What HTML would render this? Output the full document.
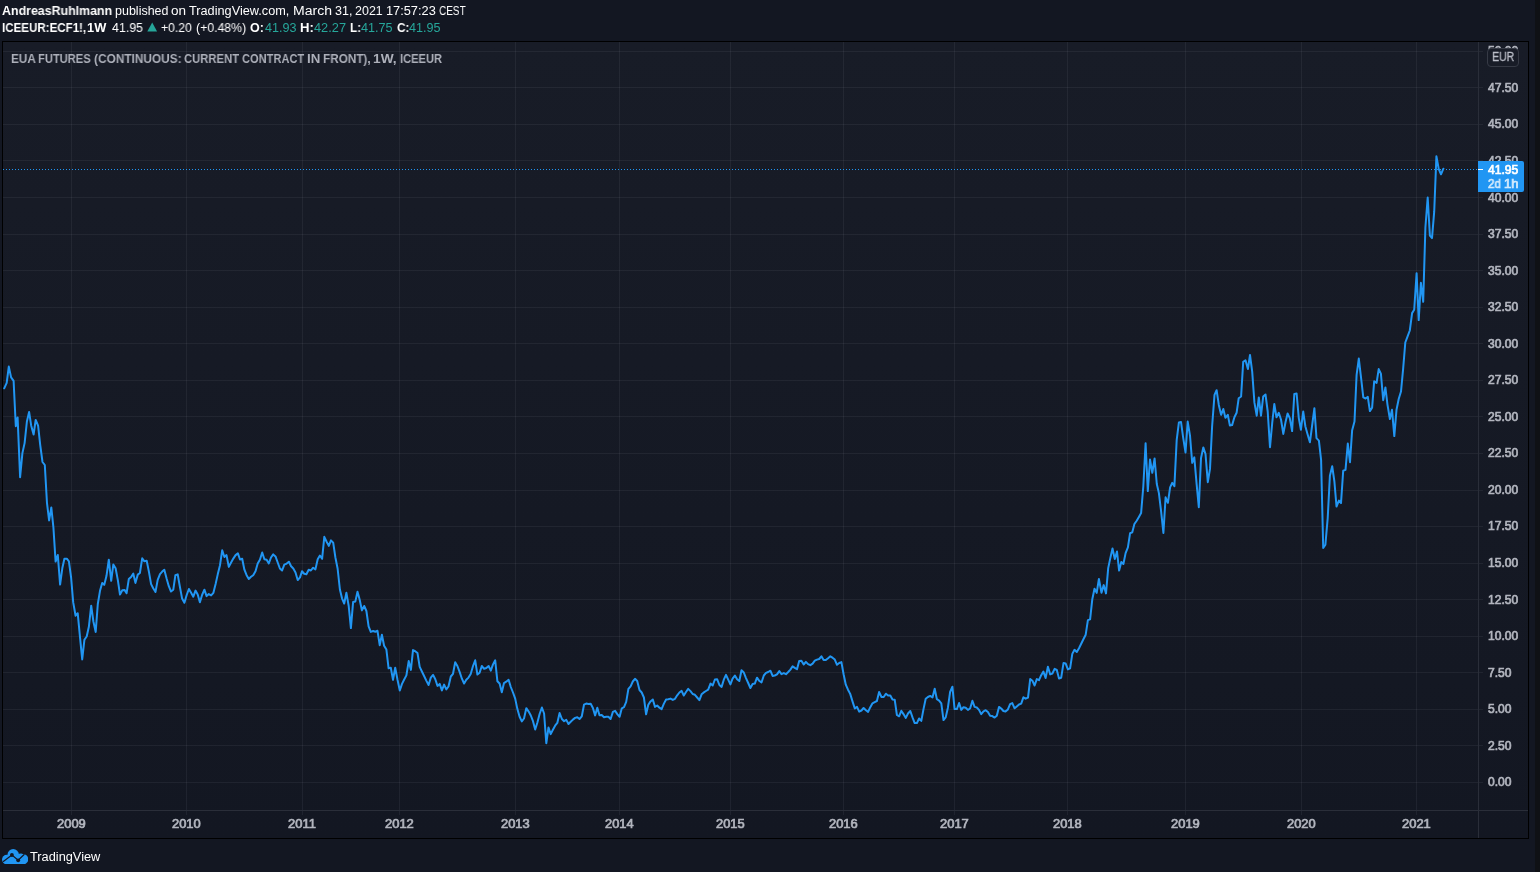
<!DOCTYPE html>
<html><head><meta charset="utf-8"><title>EUA Futures</title>
<style>
html,body{margin:0;padding:0;}
body{width:1540px;height:872px;background:#131722;position:relative;overflow:hidden;font-family:"Liberation Sans",sans-serif;}
.abs{position:absolute;}
.w{position:absolute;white-space:nowrap;transform-origin:0 0;display:block;will-change:transform;}
.hl{position:absolute;height:1px;background:rgba(240,243,250,0.06);left:3px;width:1480px;}
.vl{position:absolute;width:1px;background:rgba(240,243,250,0.06);top:42px;height:773px;}
</style></head><body>
<div class="abs" style="left:1535px;top:0;width:5px;height:872px;background:#0f1115;"></div>
<div class="abs" style="left:2px;top:41px;width:1525px;height:796px;border:1px solid #000;background:linear-gradient(to bottom,#181c27,#131722);"></div>
<div class="hl" style="top:782px"></div><div class="hl" style="top:745px"></div><div class="hl" style="top:709px"></div><div class="hl" style="top:672px"></div><div class="hl" style="top:636px"></div><div class="hl" style="top:599px"></div><div class="hl" style="top:563px"></div><div class="hl" style="top:526px"></div><div class="hl" style="top:490px"></div><div class="hl" style="top:453px"></div><div class="hl" style="top:416px"></div><div class="hl" style="top:380px"></div><div class="hl" style="top:343px"></div><div class="hl" style="top:307px"></div><div class="hl" style="top:270px"></div><div class="hl" style="top:234px"></div><div class="hl" style="top:197px"></div><div class="hl" style="top:160px"></div><div class="hl" style="top:124px"></div><div class="hl" style="top:87px"></div><div class="hl" style="top:51px"></div>
<div class="vl" style="left:71px"></div><div class="vl" style="left:186px"></div><div class="vl" style="left:302px"></div><div class="vl" style="left:399px"></div><div class="vl" style="left:515px"></div><div class="vl" style="left:619px"></div><div class="vl" style="left:730px"></div><div class="vl" style="left:843px"></div><div class="vl" style="left:954px"></div><div class="vl" style="left:1067px"></div><div class="vl" style="left:1185px"></div><div class="vl" style="left:1301px"></div><div class="vl" style="left:1416px"></div>
<div class="abs" style="left:1478px;top:42px;width:1px;height:796px;background:#2a2e39"></div>
<div class="abs" style="left:3px;top:810px;width:1525px;height:1px;background:#2a2e39"></div>
<span class="w" style="left:1487.85px;top:774.7px;font-size:12px;line-height:14px;color:#b2b5be;transform:scaleX(1.0030);-webkit-text-stroke:0.7px #b2b5be;">0.00</span><span class="w" style="left:1487.85px;top:738.7px;font-size:12px;line-height:14px;color:#b2b5be;transform:scaleX(1.0030);-webkit-text-stroke:0.7px #b2b5be;">2.50</span><span class="w" style="left:1487.85px;top:701.7px;font-size:12px;line-height:14px;color:#b2b5be;transform:scaleX(1.0030);-webkit-text-stroke:0.7px #b2b5be;">5.00</span><span class="w" style="left:1487.85px;top:665.7px;font-size:12px;line-height:14px;color:#b2b5be;transform:scaleX(1.0030);-webkit-text-stroke:0.7px #b2b5be;">7.50</span><span class="w" style="left:1487.85px;top:628.7px;font-size:12px;line-height:14px;color:#b2b5be;transform:scaleX(1.0030);-webkit-text-stroke:0.7px #b2b5be;">10.00</span><span class="w" style="left:1487.85px;top:592.7px;font-size:12px;line-height:14px;color:#b2b5be;transform:scaleX(1.0030);-webkit-text-stroke:0.7px #b2b5be;">12.50</span><span class="w" style="left:1487.85px;top:555.7px;font-size:12px;line-height:14px;color:#b2b5be;transform:scaleX(1.0030);-webkit-text-stroke:0.7px #b2b5be;">15.00</span><span class="w" style="left:1487.85px;top:518.7px;font-size:12px;line-height:14px;color:#b2b5be;transform:scaleX(1.0030);-webkit-text-stroke:0.7px #b2b5be;">17.50</span><span class="w" style="left:1487.85px;top:482.7px;font-size:12px;line-height:14px;color:#b2b5be;transform:scaleX(1.0030);-webkit-text-stroke:0.7px #b2b5be;">20.00</span><span class="w" style="left:1487.85px;top:445.7px;font-size:12px;line-height:14px;color:#b2b5be;transform:scaleX(1.0030);-webkit-text-stroke:0.7px #b2b5be;">22.50</span><span class="w" style="left:1487.85px;top:409.7px;font-size:12px;line-height:14px;color:#b2b5be;transform:scaleX(1.0030);-webkit-text-stroke:0.7px #b2b5be;">25.00</span><span class="w" style="left:1487.85px;top:372.7px;font-size:12px;line-height:14px;color:#b2b5be;transform:scaleX(1.0030);-webkit-text-stroke:0.7px #b2b5be;">27.50</span><span class="w" style="left:1487.85px;top:336.7px;font-size:12px;line-height:14px;color:#b2b5be;transform:scaleX(1.0030);-webkit-text-stroke:0.7px #b2b5be;">30.00</span><span class="w" style="left:1487.85px;top:299.7px;font-size:12px;line-height:14px;color:#b2b5be;transform:scaleX(1.0030);-webkit-text-stroke:0.7px #b2b5be;">32.50</span><span class="w" style="left:1487.85px;top:263.7px;font-size:12px;line-height:14px;color:#b2b5be;transform:scaleX(1.0030);-webkit-text-stroke:0.7px #b2b5be;">35.00</span><span class="w" style="left:1487.85px;top:226.7px;font-size:12px;line-height:14px;color:#b2b5be;transform:scaleX(1.0030);-webkit-text-stroke:0.7px #b2b5be;">37.50</span><span class="w" style="left:1487.85px;top:190.7px;font-size:12px;line-height:14px;color:#b2b5be;transform:scaleX(1.0030);-webkit-text-stroke:0.7px #b2b5be;">40.00</span><span class="w" style="left:1487.85px;top:153.7px;font-size:12px;line-height:14px;color:#b2b5be;transform:scaleX(1.0030);-webkit-text-stroke:0.7px #b2b5be;">42.50</span><span class="w" style="left:1487.85px;top:116.7px;font-size:12px;line-height:14px;color:#b2b5be;transform:scaleX(1.0030);-webkit-text-stroke:0.7px #b2b5be;">45.00</span><span class="w" style="left:1487.85px;top:80.7px;font-size:12px;line-height:14px;color:#b2b5be;transform:scaleX(1.0030);-webkit-text-stroke:0.7px #b2b5be;">47.50</span><span class="w" style="left:1487.85px;top:43.7px;font-size:12px;line-height:14px;color:#b2b5be;transform:scaleX(1.0030);-webkit-text-stroke:0.7px #b2b5be;">50.00</span>
<span class="w" style="left:57.10px;top:817px;font-size:12px;line-height:14px;color:#b2b5be;transform:scaleX(1.0774);-webkit-text-stroke:0.7px #b2b5be;">2009</span><span class="w" style="left:172.10px;top:817px;font-size:12px;line-height:14px;color:#b2b5be;transform:scaleX(1.0733);-webkit-text-stroke:0.7px #b2b5be;">2010</span><span class="w" style="left:288.10px;top:817px;font-size:12px;line-height:14px;color:#b2b5be;transform:scaleX(1.0782);-webkit-text-stroke:0.7px #b2b5be;">2011</span><span class="w" style="left:385.10px;top:817px;font-size:12px;line-height:14px;color:#b2b5be;transform:scaleX(1.0789);-webkit-text-stroke:0.7px #b2b5be;">2012</span><span class="w" style="left:501.10px;top:817px;font-size:12px;line-height:14px;color:#b2b5be;transform:scaleX(1.0757);-webkit-text-stroke:0.7px #b2b5be;">2013</span><span class="w" style="left:605.11px;top:817px;font-size:12px;line-height:14px;color:#b2b5be;transform:scaleX(1.0684);-webkit-text-stroke:0.7px #b2b5be;">2014</span><span class="w" style="left:716.10px;top:817px;font-size:12px;line-height:14px;color:#b2b5be;transform:scaleX(1.0747);-webkit-text-stroke:0.7px #b2b5be;">2015</span><span class="w" style="left:829.10px;top:817px;font-size:12px;line-height:14px;color:#b2b5be;transform:scaleX(1.0757);-webkit-text-stroke:0.7px #b2b5be;">2016</span><span class="w" style="left:940.10px;top:817px;font-size:12px;line-height:14px;color:#b2b5be;transform:scaleX(1.0789);-webkit-text-stroke:0.7px #b2b5be;">2017</span><span class="w" style="left:1053.10px;top:817px;font-size:12px;line-height:14px;color:#b2b5be;transform:scaleX(1.0755);-webkit-text-stroke:0.7px #b2b5be;">2018</span><span class="w" style="left:1171.10px;top:817px;font-size:12px;line-height:14px;color:#b2b5be;transform:scaleX(1.0774);-webkit-text-stroke:0.7px #b2b5be;">2019</span><span class="w" style="left:1287.10px;top:817px;font-size:12px;line-height:14px;color:#b2b5be;transform:scaleX(1.0733);-webkit-text-stroke:0.7px #b2b5be;">2020</span><span class="w" style="left:1402.10px;top:817px;font-size:12px;line-height:14px;color:#b2b5be;transform:scaleX(1.0782);-webkit-text-stroke:0.7px #b2b5be;">2021</span>
<svg class="abs" style="left:0;top:0" width="1540" height="872" viewBox="0 0 1540 872"><line x1="3" y1="169.5" x2="1478" y2="169.5" stroke="#2196f3" stroke-width="1" stroke-dasharray="1 2"/><path d="M4.2 388.3 L6.7 382.9 L8.8 366.6 L11.1 377.4 L13.6 380.8 L15.8 426.2 L17.6 417.4 L20.1 477.2 L22.4 453.1 L24.6 443.1 L26.9 421.5 L29.1 411.9 L31.2 425.7 L33.6 434.5 L35.7 419.9 L38.1 425.7 L40.2 444.8 L42.5 462.0 L44.8 465.0 L47.0 503.2 L49.1 520.4 L51.3 507.4 L53.4 527.3 L55.6 561.6 L57.8 555.0 L60.1 584.6 L62.3 568.3 L64.4 558.7 L66.8 558.7 L68.9 561.3 L71.1 577.5 L73.2 602.4 L75.6 615.7 L77.7 613.2 L80.1 638.1 L82.2 659.4 L84.4 639.8 L86.7 636.5 L88.9 626.5 L91.2 605.7 L93.4 621.5 L95.7 632.0 L97.8 604.0 L100.0 590.8 L102.2 582.9 L104.2 584.9 L106.5 575.8 L108.8 559.7 L111.2 580.8 L113.3 564.6 L115.6 568.3 L117.8 579.9 L120.0 594.6 L122.3 590.2 L124.5 589.9 L126.6 593.2 L128.8 579.1 L131.1 577.0 L133.3 573.6 L135.4 582.9 L137.8 574.6 L139.9 573.0 L142.2 558.3 L144.4 561.3 L146.7 560.8 L148.9 571.6 L151.1 584.1 L153.2 588.3 L155.5 591.9 L157.7 579.9 L160.0 574.1 L162.2 571.6 L164.3 569.7 L166.6 578.5 L168.8 586.2 L171.0 591.5 L173.3 589.7 L175.4 575.2 L177.7 574.4 L179.8 586.2 L182.1 598.6 L184.4 602.8 L186.7 595.0 L188.9 589.0 L191.1 592.8 L193.3 596.7 L195.5 590.6 L197.7 594.5 L199.9 602.2 L202.1 595.0 L204.4 589.7 L206.6 596.1 L208.8 594.1 L211.1 595.4 L213.4 592.8 L215.6 584.0 L217.8 574.1 L220.0 565.2 L222.2 550.3 L224.4 557.0 L226.5 555.1 L228.8 566.9 L231.1 562.5 L233.3 558.6 L235.6 555.1 L237.9 553.4 L240.0 559.5 L242.2 558.8 L244.4 569.7 L246.6 575.2 L248.8 579.0 L251.0 576.8 L253.2 575.2 L255.5 571.3 L257.7 563.6 L259.9 559.7 L262.2 552.5 L264.4 559.2 L266.6 559.7 L268.8 563.4 L271.0 557.5 L273.2 554.4 L275.5 556.4 L277.7 562.5 L279.9 568.5 L282.1 570.5 L284.3 564.7 L286.7 563.6 L288.9 561.7 L291.1 566.3 L293.3 568.5 L295.5 572.4 L297.7 580.1 L300.0 577.4 L302.0 571.3 L304.2 573.7 L306.4 574.3 L308.7 569.7 L310.9 570.5 L313.1 567.7 L315.4 569.4 L317.7 559.2 L319.9 555.5 L322.1 558.8 L324.3 536.8 L326.5 541.5 L328.8 545.9 L331.0 540.4 L333.2 542.6 L335.4 557.5 L337.6 568.5 L339.9 589.5 L342.0 598.3 L344.2 603.5 L346.4 592.8 L348.7 606.0 L350.9 628.1 L353.1 602.1 L355.3 601.6 L357.5 591.7 L359.7 599.7 L361.9 610.4 L364.2 606.0 L366.4 611.0 L368.6 626.4 L370.8 631.9 L373.1 631.0 L375.3 631.7 L377.5 630.8 L379.7 645.2 L381.9 634.7 L384.1 645.7 L386.4 649.6 L388.6 668.3 L390.8 667.8 L393.0 679.9 L395.2 667.8 L397.5 679.8 L399.8 690.5 L402.0 683.9 L404.2 679.5 L406.4 675.4 L408.7 661.1 L410.9 669.9 L413.0 650.1 L415.2 651.2 L417.5 653.1 L419.7 666.9 L421.9 671.5 L424.1 676.0 L426.3 680.6 L428.6 685.0 L430.8 677.6 L433.1 674.9 L435.3 679.3 L437.5 685.9 L439.7 683.9 L441.9 690.5 L444.1 684.6 L446.3 689.4 L448.5 686.5 L450.8 676.5 L453.0 673.8 L455.2 662.2 L457.4 666.0 L459.7 672.1 L461.9 678.7 L464.1 683.5 L466.3 679.8 L468.5 677.6 L470.7 674.0 L473.0 666.0 L475.2 660.3 L477.4 674.6 L479.6 672.7 L481.8 666.0 L484.1 668.8 L486.3 668.0 L488.6 666.0 L490.8 670.7 L493.0 664.4 L495.2 660.3 L497.4 681.3 L499.6 683.5 L501.8 692.3 L504.0 683.1 L506.2 681.7 L508.6 679.8 L510.8 687.0 L513.0 692.5 L515.2 698.6 L517.4 709.1 L519.6 716.8 L521.8 721.4 L524.0 718.5 L526.3 708.2 L528.5 711.3 L530.8 715.5 L533.0 721.2 L535.2 729.5 L537.4 722.5 L539.6 714.0 L541.9 707.5 L544.1 713.5 L546.3 743.3 L548.5 727.5 L550.7 734.1 L552.9 729.7 L555.1 725.7 L557.3 722.9 L559.6 713.0 L561.9 719.0 L564.1 721.2 L566.3 719.9 L568.5 724.0 L570.7 721.8 L572.9 719.6 L575.1 717.9 L577.3 717.2 L579.5 719.0 L581.8 716.3 L584.0 704.7 L586.2 703.6 L588.5 704.1 L590.7 703.8 L592.9 708.0 L595.1 715.4 L597.3 707.7 L599.5 715.2 L601.7 715.0 L604.0 717.2 L606.2 716.8 L608.4 716.8 L610.6 719.0 L612.9 711.9 L615.1 710.8 L617.3 714.1 L619.6 716.8 L621.8 708.3 L624.0 707.2 L626.2 701.9 L628.4 688.9 L630.6 686.3 L632.8 681.5 L635.0 678.8 L637.2 681.0 L639.5 690.0 L641.7 692.5 L643.9 697.5 L646.1 714.3 L648.3 704.7 L650.5 701.4 L652.8 699.5 L655.0 706.9 L657.2 705.5 L659.4 707.7 L661.6 709.1 L663.9 703.6 L666.1 699.5 L668.3 699.2 L670.5 698.6 L672.8 699.9 L675.0 698.8 L677.2 695.3 L679.4 692.5 L681.6 690.9 L683.8 695.5 L686.0 692.0 L688.2 688.9 L690.5 691.1 L692.7 694.0 L694.9 694.8 L697.2 697.5 L699.4 700.1 L701.6 694.3 L703.8 692.4 L706.0 691.0 L708.2 689.7 L710.5 683.6 L712.7 685.5 L714.9 679.5 L717.1 679.2 L719.4 685.0 L721.6 686.9 L723.8 679.7 L726.0 674.8 L728.2 679.7 L730.4 684.4 L732.6 678.6 L734.9 675.5 L737.1 679.2 L739.3 681.0 L741.5 670.3 L743.8 672.5 L746.0 678.1 L748.2 683.0 L750.4 688.0 L752.6 684.1 L754.8 683.6 L757.0 677.7 L759.2 680.8 L761.5 682.5 L763.8 675.5 L766.0 672.9 L768.2 672.0 L770.4 670.7 L772.6 675.9 L774.8 675.5 L777.0 674.4 L779.3 671.1 L781.5 674.2 L783.8 673.1 L786.0 674.2 L788.2 672.0 L790.4 669.6 L792.6 666.3 L794.8 667.8 L797.0 669.2 L799.2 661.0 L801.4 660.7 L803.7 664.5 L805.9 661.9 L808.1 664.1 L810.4 665.2 L812.6 663.7 L814.8 660.7 L817.0 659.6 L819.2 659.0 L821.4 656.3 L823.6 659.9 L825.8 660.1 L828.1 658.2 L830.3 656.3 L832.5 657.7 L834.8 659.6 L837.0 664.8 L839.2 663.0 L841.4 662.1 L843.6 674.2 L845.8 684.7 L848.0 689.7 L850.2 693.9 L852.5 701.4 L854.8 708.5 L857.0 706.9 L859.2 711.6 L861.4 710.5 L863.6 708.0 L865.9 710.2 L868.1 711.9 L870.3 707.2 L872.5 703.3 L874.7 702.1 L876.9 701.0 L879.1 692.0 L881.5 697.0 L883.7 697.0 L885.9 693.7 L888.1 695.5 L890.3 695.5 L892.5 699.5 L894.7 699.7 L896.9 715.0 L899.1 716.3 L901.3 710.8 L903.5 714.1 L905.8 717.9 L908.0 713.5 L910.3 711.0 L912.5 717.4 L914.7 723.1 L916.9 723.1 L919.1 718.5 L921.3 720.9 L923.5 709.1 L925.7 698.8 L927.9 697.0 L930.2 695.9 L932.5 697.5 L934.7 688.7 L936.9 699.2 L939.1 700.6 L941.3 703.3 L943.5 720.1 L945.7 717.4 L947.9 707.7 L950.1 692.0 L952.4 686.7 L954.6 709.1 L956.9 709.1 L959.1 703.0 L961.3 709.9 L963.5 707.2 L965.7 707.7 L967.9 709.9 L970.1 708.5 L972.4 700.8 L974.6 706.9 L976.8 707.5 L979.0 709.9 L981.2 714.1 L983.5 711.3 L985.7 710.2 L987.9 712.1 L990.1 715.7 L992.3 716.1 L994.6 717.6 L996.8 715.7 L999.0 706.9 L1001.2 708.5 L1003.4 711.0 L1005.5 711.6 L1007.9 709.4 L1010.1 704.2 L1012.3 703.1 L1014.6 708.3 L1016.8 706.4 L1019.0 704.5 L1021.2 703.6 L1023.4 697.3 L1025.6 698.7 L1028.0 697.6 L1030.2 679.1 L1032.4 680.7 L1034.6 685.5 L1036.8 679.1 L1039.0 680.2 L1041.2 675.2 L1043.4 671.6 L1045.6 678.0 L1047.9 666.7 L1050.2 674.4 L1052.4 673.5 L1054.6 668.9 L1056.8 670.0 L1059.0 678.5 L1061.2 677.7 L1063.5 663.1 L1065.7 663.6 L1067.9 669.4 L1070.1 668.3 L1072.3 653.9 L1074.5 649.8 L1076.8 652.0 L1079.0 648.2 L1081.2 643.8 L1083.4 639.3 L1085.7 634.7 L1087.9 620.1 L1090.1 619.4 L1092.3 599.2 L1094.5 588.7 L1096.7 592.9 L1098.9 579.0 L1101.5 592.7 L1103.7 585.1 L1106.0 593.4 L1108.2 568.1 L1110.3 558.1 L1112.5 548.5 L1114.8 559.0 L1117.0 551.5 L1119.1 570.6 L1121.3 562.0 L1123.4 564.0 L1125.6 553.1 L1127.9 547.3 L1130.1 533.2 L1132.2 532.4 L1134.4 524.0 L1136.7 520.7 L1138.9 516.9 L1141.1 513.1 L1143.3 486.5 L1145.6 443.2 L1147.8 491.1 L1150.0 459.5 L1152.3 472.8 L1154.6 458.5 L1156.8 484.0 L1158.9 493.1 L1161.1 511.4 L1163.4 533.0 L1165.6 497.3 L1167.9 502.8 L1170.1 487.3 L1172.2 482.8 L1174.4 486.1 L1176.7 439.9 L1178.9 422.4 L1181.0 421.9 L1183.2 437.9 L1185.5 452.4 L1187.7 421.6 L1190.0 435.7 L1192.2 462.8 L1194.3 457.4 L1196.7 484.8 L1198.8 507.2 L1201.0 458.2 L1203.3 447.4 L1205.5 454.0 L1207.8 482.2 L1210.0 468.9 L1212.1 426.5 L1214.5 394.9 L1216.6 390.2 L1218.8 404.9 L1221.1 414.8 L1223.3 409.0 L1225.4 417.8 L1227.8 414.8 L1229.9 425.6 L1232.1 425.1 L1234.4 417.3 L1236.6 412.8 L1238.7 398.2 L1241.1 396.5 L1243.2 361.9 L1245.5 360.3 L1247.9 369.1 L1250.0 355.0 L1252.2 371.6 L1254.4 402.4 L1256.7 415.7 L1258.8 397.4 L1261.0 415.7 L1263.2 396.5 L1265.5 394.5 L1267.7 411.5 L1270.0 447.2 L1272.2 423.1 L1274.3 404.0 L1276.5 417.3 L1278.8 412.8 L1281.0 419.5 L1283.3 433.9 L1285.5 422.3 L1287.6 413.5 L1289.8 418.1 L1292.1 431.1 L1294.3 394.0 L1296.6 393.5 L1298.8 418.1 L1300.9 429.8 L1303.2 411.5 L1305.4 426.5 L1307.7 434.8 L1309.9 442.3 L1312.0 426.5 L1314.4 408.2 L1316.5 438.1 L1318.9 440.6 L1321.1 459.9 L1323.2 548.0 L1325.4 544.7 L1327.7 518.1 L1329.9 475.7 L1332.2 466.2 L1334.4 481.5 L1336.5 506.5 L1338.9 500.6 L1341.0 503.1 L1343.2 470.7 L1345.5 469.9 L1347.8 443.6 L1350.0 462.2 L1352.1 430.6 L1354.5 421.5 L1356.6 374.9 L1358.8 358.6 L1361.1 378.2 L1363.3 397.4 L1365.6 398.5 L1367.8 396.9 L1369.9 411.1 L1372.1 407.8 L1374.2 381.2 L1376.6 382.9 L1378.7 369.1 L1380.9 373.6 L1383.2 400.2 L1385.4 387.4 L1387.5 404.8 L1389.9 419.0 L1392.0 409.8 L1394.3 436.1 L1396.5 409.8 L1398.7 399.0 L1401.0 391.5 L1403.2 368.2 L1405.3 342.5 L1407.6 336.4 L1409.8 330.5 L1412.1 313.1 L1414.2 309.8 L1416.6 273.2 L1418.7 320.1 L1420.9 282.8 L1423.2 301.8 L1425.4 227.4 L1427.7 197.6 L1429.9 235.7 L1432.0 238.1 L1434.2 211.7 L1436.4 156.3 L1438.7 168.9 L1441.0 174.3 L1443.4 168.7" fill="none" stroke="#2196f3" stroke-width="2" stroke-linejoin="round" stroke-linecap="round"/></svg>
<div class="abs" style="left:1487px;top:48px;width:32px;height:19px;border:1px solid #363a45;border-radius:4px;background:#181c27;box-sizing:border-box;"></div><span class="w" style="left:1491.93px;top:49.8px;font-size:12.5px;line-height:14px;color:#bcbfc9;transform:scaleX(0.8472);-webkit-text-stroke:0.3px #bcbfc9;">EUR</span>
<div class="abs" style="left:1478px;top:161px;width:46px;height:31px;background:#2196f3;border-radius:0 2px 2px 0;"></div><div class="abs" style="left:1478px;top:169px;width:5px;height:1px;background:#fff;"></div><span class="w" style="left:1487.62px;top:163px;font-size:12px;line-height:14px;color:#fff;transform:scaleX(1.0085);-webkit-text-stroke:0.7px #fff;">41.95</span><span class="w" style="left:1488.32px;top:177px;font-size:12px;line-height:14px;color:#d3eafd;transform:scaleX(0.9607);-webkit-text-stroke:0.7px #d3eafd;">2d</span><span class="w" style="left:1504.02px;top:177px;font-size:12px;line-height:14px;color:#d3eafd;transform:scaleX(1.0726);-webkit-text-stroke:0.7px #d3eafd;">1h</span>
<span class="w" style="left:10.91px;top:52px;font-size:12.5px;line-height:15px;color:#adb0ba;transform:scaleX(0.9435);font-weight:bold;">EUA</span><span class="w" style="left:37.85px;top:52px;font-size:12.5px;line-height:15px;color:#adb0ba;transform:scaleX(0.8925);font-weight:bold;">FUTURES</span><span class="w" style="left:94.01px;top:52px;font-size:12.5px;line-height:15px;color:#adb0ba;transform:scaleX(0.9489);font-weight:bold;">(CONTINUOUS:</span><span class="w" style="left:183.94px;top:52px;font-size:12.5px;line-height:15px;color:#adb0ba;transform:scaleX(0.9014);font-weight:bold;">CURRENT</span><span class="w" style="left:241.95px;top:52px;font-size:12.5px;line-height:15px;color:#adb0ba;transform:scaleX(0.8866);font-weight:bold;">CONTRACT</span><span class="w" style="left:306.71px;top:52px;font-size:12.5px;line-height:15px;color:#adb0ba;transform:scaleX(1.0627);font-weight:bold;">IN</span><span class="w" style="left:322.72px;top:52px;font-size:12.5px;line-height:15px;color:#adb0ba;transform:scaleX(0.9386);font-weight:bold;">FRONT),</span><span class="w" style="left:372.54px;top:52px;font-size:12.5px;line-height:15px;color:#adb0ba;transform:scaleX(1.0971);font-weight:bold;">1W,</span><span class="w" style="left:399.86px;top:52px;font-size:12.5px;line-height:15px;color:#adb0ba;transform:scaleX(0.8887);font-weight:bold;">ICEEUR</span>
<span class="w" style="left:1.69px;top:2.5px;font-size:12.5px;line-height:16px;color:#fff;transform:scaleX(0.9915);font-weight:bold;">AndreasRuhlmann</span><span class="w" style="left:114.70px;top:2.5px;font-size:12.5px;line-height:16px;color:#fff;transform:scaleX(0.9980);">published</span><span class="w" style="left:170.83px;top:2.5px;font-size:12.5px;line-height:16px;color:#fff;transform:scaleX(1.0822);">on</span><span class="w" style="left:188.61px;top:2.5px;font-size:12.5px;line-height:16px;color:#fff;transform:scaleX(1.0169);">TradingView.com,</span><span class="w" style="left:292.75px;top:2.5px;font-size:12.5px;line-height:16px;color:#fff;transform:scaleX(1.1219);">March</span><span class="w" style="left:334.62px;top:2.5px;font-size:12.5px;line-height:16px;color:#fff;transform:scaleX(1.0014);">31,</span><span class="w" style="left:354.58px;top:2.5px;font-size:12.5px;line-height:16px;color:#fff;transform:scaleX(0.9937);">2021</span><span class="w" style="left:385.73px;top:2.5px;font-size:12.5px;line-height:16px;color:#fff;transform:scaleX(1.0221);">17:57:23</span><span class="w" style="left:438.89px;top:2.5px;font-size:12.5px;line-height:16px;color:#fff;transform:scaleX(0.8021);">CEST</span>
<span class="w" style="left:1.53px;top:19.5px;font-size:12.5px;line-height:16px;color:#fff;transform:scaleX(0.9249);font-weight:bold;">ICEEUR:ECF1!,</span><span class="w" style="left:86.79px;top:19.5px;font-size:12.5px;line-height:16px;color:#fff;transform:scaleX(1.0250);font-weight:bold;">1W</span><span class="w" style="left:112.22px;top:19.5px;font-size:12.5px;line-height:16px;color:#fff;transform:scaleX(0.9879);">41.95</span><span class="w" style="left:161.41px;top:19.5px;font-size:12.5px;line-height:16px;color:#fff;transform:scaleX(0.9728);">+0.20</span><span class="w" style="left:195.94px;top:19.5px;font-size:12.5px;line-height:16px;color:#fff;transform:scaleX(0.9815);">(+0.48%)</span><span class="w" style="left:249.79px;top:19.5px;font-size:12.5px;line-height:16px;color:#fff;transform:scaleX(0.9942);font-weight:bold;">O:</span><span class="w" style="left:264.51px;top:19.5px;font-size:12.5px;line-height:16px;color:#26a69a;transform:scaleX(1.0084);">41.93</span><span class="w" style="left:299.72px;top:19.5px;font-size:12.5px;line-height:16px;color:#fff;transform:scaleX(1.0492);font-weight:bold;">H:</span><span class="w" style="left:313.91px;top:19.5px;font-size:12.5px;line-height:16px;color:#26a69a;transform:scaleX(1.0242);">42.27</span><span class="w" style="left:349.72px;top:19.5px;font-size:12.5px;line-height:16px;color:#fff;transform:scaleX(0.9324);font-weight:bold;">L:</span><span class="w" style="left:361.21px;top:19.5px;font-size:12.5px;line-height:16px;color:#26a69a;transform:scaleX(1.0109);">41.75</span><span class="w" style="left:396.72px;top:19.5px;font-size:12.5px;line-height:16px;color:#fff;transform:scaleX(0.9412);font-weight:bold;">C:</span><span class="w" style="left:409.01px;top:19.5px;font-size:12.5px;line-height:16px;color:#26a69a;transform:scaleX(1.0076);">41.95</span><svg class="abs" style="left:147px;top:22px" width="11" height="10" viewBox="0 0 11 10"><path d="M0.3 9.6 L5.2 0.6 L10.1 9.6Z" fill="#26a69a"/></svg>
<svg class="abs" style="left:1.75px;top:848.8px" width="26.3" height="15.4" viewBox="0 0 26.3 15.4"><g fill="#2196f3"><circle cx="4.8" cy="10.6" r="4.8"/><circle cx="11.2" cy="5.7" r="5.7"/><circle cx="21.1" cy="10.2" r="5.2"/><rect x="4.8" y="7" width="16.3" height="8.4"/><path d="M15 5 L19 4.6 L22 5.2 L22 10 L15 10Z"/></g><path d="M1.0 12.7 L9.9 6.0 L16.2 11.3 L22.4 5.3" fill="none" stroke="#131722" stroke-width="1.2"/><circle cx="9.9" cy="6.0" r="1.9" fill="#131722"/><circle cx="16.2" cy="11.3" r="1.9" fill="#131722"/></svg><span class="w" style="left:29.91px;top:848.7px;font-size:12.5px;line-height:16px;color:#fff;transform:scaleX(1.0227);">TradingView</span>
</body></html>
